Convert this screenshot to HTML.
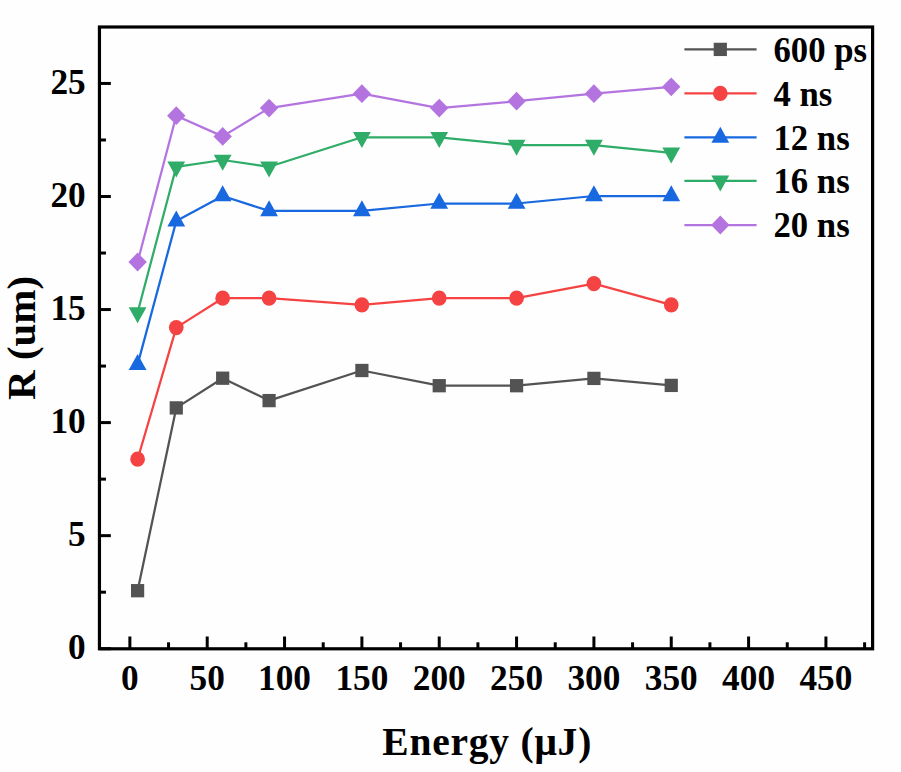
<!DOCTYPE html>
<html><head><meta charset="utf-8"><title>R vs Energy</title>
<style>html,body{margin:0;padding:0;background:#fefefe;width:901px;height:772px;overflow:hidden}svg{display:block}</style>
</head><body>
<svg width="901" height="772" viewBox="0 0 901 772">
<rect width="901" height="772" fill="#fefefe"/>
<polyline points="137.60,590.70 176.27,407.90 222.68,378.20 269.08,400.60 361.89,370.50 439.23,385.70 516.57,385.70 593.91,378.40 671.25,385.40" fill="none" stroke="#535353" stroke-width="2.25" stroke-linejoin="round"/><rect x="131.00" y="584.05" width="13.2" height="13.3" fill="#535353"/><rect x="169.67" y="401.25" width="13.2" height="13.3" fill="#535353"/><rect x="216.08" y="371.55" width="13.2" height="13.3" fill="#535353"/><rect x="262.48" y="393.95" width="13.2" height="13.3" fill="#535353"/><rect x="355.29" y="363.85" width="13.2" height="13.3" fill="#535353"/><rect x="432.63" y="379.05" width="13.2" height="13.3" fill="#535353"/><rect x="509.97" y="379.05" width="13.2" height="13.3" fill="#535353"/><rect x="587.31" y="371.75" width="13.2" height="13.3" fill="#535353"/><rect x="664.65" y="378.75" width="13.2" height="13.3" fill="#535353"/><polyline points="137.60,459.20 176.27,327.60 222.68,298.20 269.08,298.20 361.89,304.80 439.23,298.20 516.57,298.20 593.91,283.60 671.25,304.80" fill="none" stroke="#F54343" stroke-width="2.25" stroke-linejoin="round"/><ellipse cx="137.60" cy="459.20" rx="7.35" ry="7.6" fill="#F54343"/><ellipse cx="176.27" cy="327.60" rx="7.35" ry="7.6" fill="#F54343"/><ellipse cx="222.68" cy="298.20" rx="7.35" ry="7.6" fill="#F54343"/><ellipse cx="269.08" cy="298.20" rx="7.35" ry="7.6" fill="#F54343"/><ellipse cx="361.89" cy="304.80" rx="7.35" ry="7.6" fill="#F54343"/><ellipse cx="439.23" cy="298.20" rx="7.35" ry="7.6" fill="#F54343"/><ellipse cx="516.57" cy="298.20" rx="7.35" ry="7.6" fill="#F54343"/><ellipse cx="593.91" cy="283.60" rx="7.35" ry="7.6" fill="#F54343"/><ellipse cx="671.25" cy="304.80" rx="7.35" ry="7.6" fill="#F54343"/><polyline points="137.60,364.60 176.27,221.10 222.68,196.00 269.08,210.90 361.89,210.90 439.23,203.50 516.57,203.50 593.91,196.00 671.25,196.00" fill="none" stroke="#1868E0" stroke-width="2.25" stroke-linejoin="round"/><polygon points="137.60,353.93 146.50,369.93 128.70,369.93" fill="#1868E0"/><polygon points="176.27,210.43 185.17,226.43 167.37,226.43" fill="#1868E0"/><polygon points="222.68,185.33 231.58,201.33 213.78,201.33" fill="#1868E0"/><polygon points="269.08,200.23 277.98,216.23 260.18,216.23" fill="#1868E0"/><polygon points="361.89,200.23 370.79,216.23 352.99,216.23" fill="#1868E0"/><polygon points="439.23,192.83 448.13,208.83 430.33,208.83" fill="#1868E0"/><polygon points="516.57,192.83 525.47,208.83 507.67,208.83" fill="#1868E0"/><polygon points="593.91,185.33 602.81,201.33 585.01,201.33" fill="#1868E0"/><polygon points="671.25,185.33 680.15,201.33 662.35,201.33" fill="#1868E0"/><polyline points="137.60,312.50 176.27,166.80 222.68,160.00 269.08,166.80 361.89,137.30 439.23,137.30 516.57,145.10 593.91,145.10 671.25,152.80" fill="none" stroke="#2FAC68" stroke-width="2.25" stroke-linejoin="round"/><polygon points="128.70,307.17 146.50,307.17 137.60,323.17" fill="#2FAC68"/><polygon points="167.37,161.47 185.17,161.47 176.27,177.47" fill="#2FAC68"/><polygon points="213.78,154.67 231.58,154.67 222.68,170.67" fill="#2FAC68"/><polygon points="260.18,161.47 277.98,161.47 269.08,177.47" fill="#2FAC68"/><polygon points="352.99,131.97 370.79,131.97 361.89,147.97" fill="#2FAC68"/><polygon points="430.33,131.97 448.13,131.97 439.23,147.97" fill="#2FAC68"/><polygon points="507.67,139.77 525.47,139.77 516.57,155.77" fill="#2FAC68"/><polygon points="585.01,139.77 602.81,139.77 593.91,155.77" fill="#2FAC68"/><polygon points="662.35,147.47 680.15,147.47 671.25,163.47" fill="#2FAC68"/><polyline points="137.60,262.00 176.27,115.70 222.68,136.40 269.08,108.10 361.89,93.70 439.23,108.10 516.57,101.20 593.91,93.70 671.25,86.80" fill="none" stroke="#B474E0" stroke-width="2.25" stroke-linejoin="round"/><polygon points="137.60,252.60 146.80,262.00 137.60,271.40 128.40,262.00" fill="#B474E0"/><polygon points="176.27,106.30 185.47,115.70 176.27,125.10 167.07,115.70" fill="#B474E0"/><polygon points="222.68,127.00 231.88,136.40 222.68,145.80 213.48,136.40" fill="#B474E0"/><polygon points="269.08,98.70 278.28,108.10 269.08,117.50 259.88,108.10" fill="#B474E0"/><polygon points="361.89,84.30 371.09,93.70 361.89,103.10 352.69,93.70" fill="#B474E0"/><polygon points="439.23,98.70 448.43,108.10 439.23,117.50 430.03,108.10" fill="#B474E0"/><polygon points="516.57,91.80 525.77,101.20 516.57,110.60 507.37,101.20" fill="#B474E0"/><polygon points="593.91,84.30 603.11,93.70 593.91,103.10 584.71,93.70" fill="#B474E0"/><polygon points="671.25,77.40 680.45,86.80 671.25,96.20 662.05,86.80" fill="#B474E0"/>
<rect x="99.45" y="27.00" width="773.15" height="621.80" fill="none" stroke="#000" stroke-width="3.2"/>
<line x1="129.87" y1="648.80" x2="129.87" y2="636.50" stroke="#000" stroke-width="3.0"/><line x1="207.21" y1="648.80" x2="207.21" y2="636.50" stroke="#000" stroke-width="3.0"/><line x1="284.55" y1="648.80" x2="284.55" y2="636.50" stroke="#000" stroke-width="3.0"/><line x1="361.89" y1="648.80" x2="361.89" y2="636.50" stroke="#000" stroke-width="3.0"/><line x1="439.23" y1="648.80" x2="439.23" y2="636.50" stroke="#000" stroke-width="3.0"/><line x1="516.57" y1="648.80" x2="516.57" y2="636.50" stroke="#000" stroke-width="3.0"/><line x1="593.91" y1="648.80" x2="593.91" y2="636.50" stroke="#000" stroke-width="3.0"/><line x1="671.25" y1="648.80" x2="671.25" y2="636.50" stroke="#000" stroke-width="3.0"/><line x1="748.59" y1="648.80" x2="748.59" y2="636.50" stroke="#000" stroke-width="3.0"/><line x1="825.93" y1="648.80" x2="825.93" y2="636.50" stroke="#000" stroke-width="3.0"/><line x1="168.54" y1="648.80" x2="168.54" y2="642.30" stroke="#000" stroke-width="3.0"/><line x1="245.88" y1="648.80" x2="245.88" y2="642.30" stroke="#000" stroke-width="3.0"/><line x1="323.22" y1="648.80" x2="323.22" y2="642.30" stroke="#000" stroke-width="3.0"/><line x1="400.56" y1="648.80" x2="400.56" y2="642.30" stroke="#000" stroke-width="3.0"/><line x1="477.90" y1="648.80" x2="477.90" y2="642.30" stroke="#000" stroke-width="3.0"/><line x1="555.24" y1="648.80" x2="555.24" y2="642.30" stroke="#000" stroke-width="3.0"/><line x1="632.58" y1="648.80" x2="632.58" y2="642.30" stroke="#000" stroke-width="3.0"/><line x1="709.92" y1="648.80" x2="709.92" y2="642.30" stroke="#000" stroke-width="3.0"/><line x1="787.26" y1="648.80" x2="787.26" y2="642.30" stroke="#000" stroke-width="3.0"/><line x1="864.60" y1="648.80" x2="864.60" y2="642.30" stroke="#000" stroke-width="3.0"/><line x1="99.45" y1="648.70" x2="110.85" y2="648.70" stroke="#000" stroke-width="3.0"/><line x1="99.45" y1="535.65" x2="110.85" y2="535.65" stroke="#000" stroke-width="3.0"/><line x1="99.45" y1="422.60" x2="110.85" y2="422.60" stroke="#000" stroke-width="3.0"/><line x1="99.45" y1="309.55" x2="110.85" y2="309.55" stroke="#000" stroke-width="3.0"/><line x1="99.45" y1="196.50" x2="110.85" y2="196.50" stroke="#000" stroke-width="3.0"/><line x1="99.45" y1="83.45" x2="110.85" y2="83.45" stroke="#000" stroke-width="3.0"/><line x1="99.45" y1="592.18" x2="105.95" y2="592.18" stroke="#000" stroke-width="3.0"/><line x1="99.45" y1="479.13" x2="105.95" y2="479.13" stroke="#000" stroke-width="3.0"/><line x1="99.45" y1="366.08" x2="105.95" y2="366.08" stroke="#000" stroke-width="3.0"/><line x1="99.45" y1="253.03" x2="105.95" y2="253.03" stroke="#000" stroke-width="3.0"/><line x1="99.45" y1="139.98" x2="105.95" y2="139.98" stroke="#000" stroke-width="3.0"/>
<text transform="translate(129.87,690.4) scale(1,1.03)" text-anchor="middle" font-family="Liberation Serif" font-weight="bold" font-size="35.3">0</text><text transform="translate(207.21,690.4) scale(1,1.03)" text-anchor="middle" font-family="Liberation Serif" font-weight="bold" font-size="35.3">50</text><text transform="translate(284.55,690.4) scale(1,1.03)" text-anchor="middle" font-family="Liberation Serif" font-weight="bold" font-size="35.3">100</text><text transform="translate(361.89,690.4) scale(1,1.03)" text-anchor="middle" font-family="Liberation Serif" font-weight="bold" font-size="35.3">150</text><text transform="translate(439.23,690.4) scale(1,1.03)" text-anchor="middle" font-family="Liberation Serif" font-weight="bold" font-size="35.3">200</text><text transform="translate(516.57,690.4) scale(1,1.03)" text-anchor="middle" font-family="Liberation Serif" font-weight="bold" font-size="35.3">250</text><text transform="translate(593.91,690.4) scale(1,1.03)" text-anchor="middle" font-family="Liberation Serif" font-weight="bold" font-size="35.3">300</text><text transform="translate(671.25,690.4) scale(1,1.03)" text-anchor="middle" font-family="Liberation Serif" font-weight="bold" font-size="35.3">350</text><text transform="translate(748.59,690.4) scale(1,1.03)" text-anchor="middle" font-family="Liberation Serif" font-weight="bold" font-size="35.3">400</text><text transform="translate(825.93,690.4) scale(1,1.03)" text-anchor="middle" font-family="Liberation Serif" font-weight="bold" font-size="35.3">450</text><text transform="translate(85.7,659.30) scale(1,1.03)" text-anchor="end" font-family="Liberation Serif" font-weight="bold" font-size="35.3">0</text><text transform="translate(85.7,546.25) scale(1,1.03)" text-anchor="end" font-family="Liberation Serif" font-weight="bold" font-size="35.3">5</text><text transform="translate(85.7,433.20) scale(1,1.03)" text-anchor="end" font-family="Liberation Serif" font-weight="bold" font-size="35.3">10</text><text transform="translate(85.7,320.15) scale(1,1.03)" text-anchor="end" font-family="Liberation Serif" font-weight="bold" font-size="35.3">15</text><text transform="translate(85.7,207.10) scale(1,1.03)" text-anchor="end" font-family="Liberation Serif" font-weight="bold" font-size="35.3">20</text><text transform="translate(85.7,94.05) scale(1,1.03)" text-anchor="end" font-family="Liberation Serif" font-weight="bold" font-size="35.3">25</text>
<text transform="translate(486.8,754.9) scale(1,1.03)" text-anchor="middle" textLength="209" lengthAdjust="spacing" font-family="Liberation Serif" font-weight="bold" font-size="39.5">Energy (μJ)</text><text transform="translate(34.9,337.9) rotate(-90) scale(1.038,1.03)" x="0" y="0" text-anchor="middle" font-family="Liberation Serif" font-weight="bold" font-size="39.5">R (um)</text>
<line x1="684.4" y1="49.4" x2="756.6" y2="49.4" stroke="#535353" stroke-width="2.25"/><rect x="713.70" y="42.75" width="13.2" height="13.3" fill="#535353"/><text transform="translate(773.5,61.80) scale(1,1.03)" font-family="Liberation Serif" font-weight="bold" font-size="34.7">600 ps</text><line x1="684.4" y1="93.4" x2="756.6" y2="93.4" stroke="#F54343" stroke-width="2.25"/><ellipse cx="720.30" cy="93.40" rx="7.35" ry="7.6" fill="#F54343"/><text transform="translate(773.5,105.80) scale(1,1.03)" font-family="Liberation Serif" font-weight="bold" font-size="34.7">4 ns</text><line x1="684.4" y1="137.4" x2="756.6" y2="137.4" stroke="#1868E0" stroke-width="2.25"/><polygon points="720.30,126.73 729.20,142.73 711.40,142.73" fill="#1868E0"/><text transform="translate(773.5,149.80) scale(1,1.03)" font-family="Liberation Serif" font-weight="bold" font-size="34.7">12 ns</text><line x1="684.4" y1="180.9" x2="756.6" y2="180.9" stroke="#2FAC68" stroke-width="2.25"/><polygon points="711.40,175.57 729.20,175.57 720.30,191.57" fill="#2FAC68"/><text transform="translate(773.5,193.30) scale(1,1.03)" font-family="Liberation Serif" font-weight="bold" font-size="34.7">16 ns</text><line x1="684.4" y1="225.0" x2="756.6" y2="225.0" stroke="#B474E0" stroke-width="2.25"/><polygon points="720.30,215.60 729.50,225.00 720.30,234.40 711.10,225.00" fill="#B474E0"/><text transform="translate(773.5,237.40) scale(1,1.03)" font-family="Liberation Serif" font-weight="bold" font-size="34.7">20 ns</text>
</svg>
</body></html>
